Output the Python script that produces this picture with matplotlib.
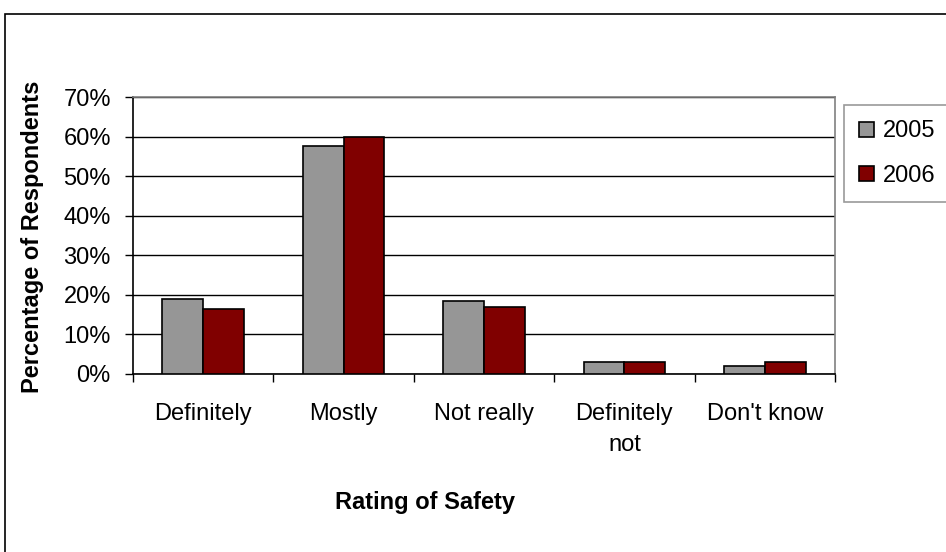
import matplotlib
matplotlib.use("Agg")
import matplotlib.pyplot as plt
import numpy as np
from matplotlib.patches import Rectangle

plt.rcParams["font.family"] = ["Liberation Sans", "DejaVu Sans"]

categories = ["Definitely", "Mostly", "Not really", "Definitely\nnot", "Don't know"]
years = ["2005", "2006"]
values_2005 = [19.0, 57.5, 18.5, 3.0, 2.0]
values_2006 = [16.5, 60.0, 17.0, 3.0, 3.0]
colors = ["#969696", "#800000"]

W, H = 946, 552
fig = plt.figure(figsize=(W / 100, H / 100), dpi=100)

# outer chart border (runs off the right and bottom edges)
fig.patches.append(Rectangle((5 / W, -0.1), 2, 1.1 - 14 / H, transform=fig.transFigure,
                             fill=False, ec="black", lw=1.2))

ax = fig.add_axes([133 / W, 1 - 374 / H, (835 - 133) / W, (374 - 97) / H])

x = np.arange(len(categories))
bw = 0.29
ax.bar(x - bw / 2, values_2005, bw, color=colors[0], ec="black", lw=1.2,
       label=years[0], zorder=3)
ax.bar(x + bw / 2, values_2006, bw, color=colors[1], ec="black", lw=1.2,
       label=years[1], zorder=3)

ax.set_xlim(-0.5, len(categories) - 0.5)
ax.set_ylim(0, 70)
ax.set_yticks(np.arange(0, 71, 10))
ax.set_yticklabels([f"{v}%" for v in range(0, 71, 10)], fontsize=17)
ax.yaxis.grid(True, color="black", lw=1.0, zorder=0)

ax.set_xticks(x)
ax.set_xticklabels(categories, fontsize=17, linespacing=1.5)
ax.set_xticks(np.arange(-0.5, len(categories), 1), minor=True)
ax.tick_params(axis="x", which="major", length=0, pad=21)
ax.tick_params(axis="x", which="minor", length=6, width=1, color="black")
ax.tick_params(axis="y", length=6, width=1, pad=10)

for side in ["top", "right"]:
    ax.spines[side].set_color("#808080")
    ax.spines[side].set_linewidth(1.2)
for side in ["left", "bottom"]:
    ax.spines[side].set_color("black")
    ax.spines[side].set_linewidth(1.2)

fig.text(33 / W, 1 - 237 / H, "Percentage of Respondents", rotation=90,
         fontsize=17, fontweight="bold", ha="center", va="center")
fig.text(425 / W, 1 - 502 / H, "Rating of Safety", fontsize=17,
         fontweight="bold", ha="center", va="center")

leg = fig.legend(loc="upper left", bbox_to_anchor=(844 / W, 1 - 105 / H),
                 fontsize=17, frameon=True, fancybox=False, handlelength=0.6,
                 handleheight=0.6, handletextpad=0.4, labelspacing=0.95,
                 borderpad=0.65, borderaxespad=0)
leg.get_frame().set_edgecolor("#808080")
leg.get_frame().set_linewidth(1.2)

fig.savefig("out.png", dpi=100)
